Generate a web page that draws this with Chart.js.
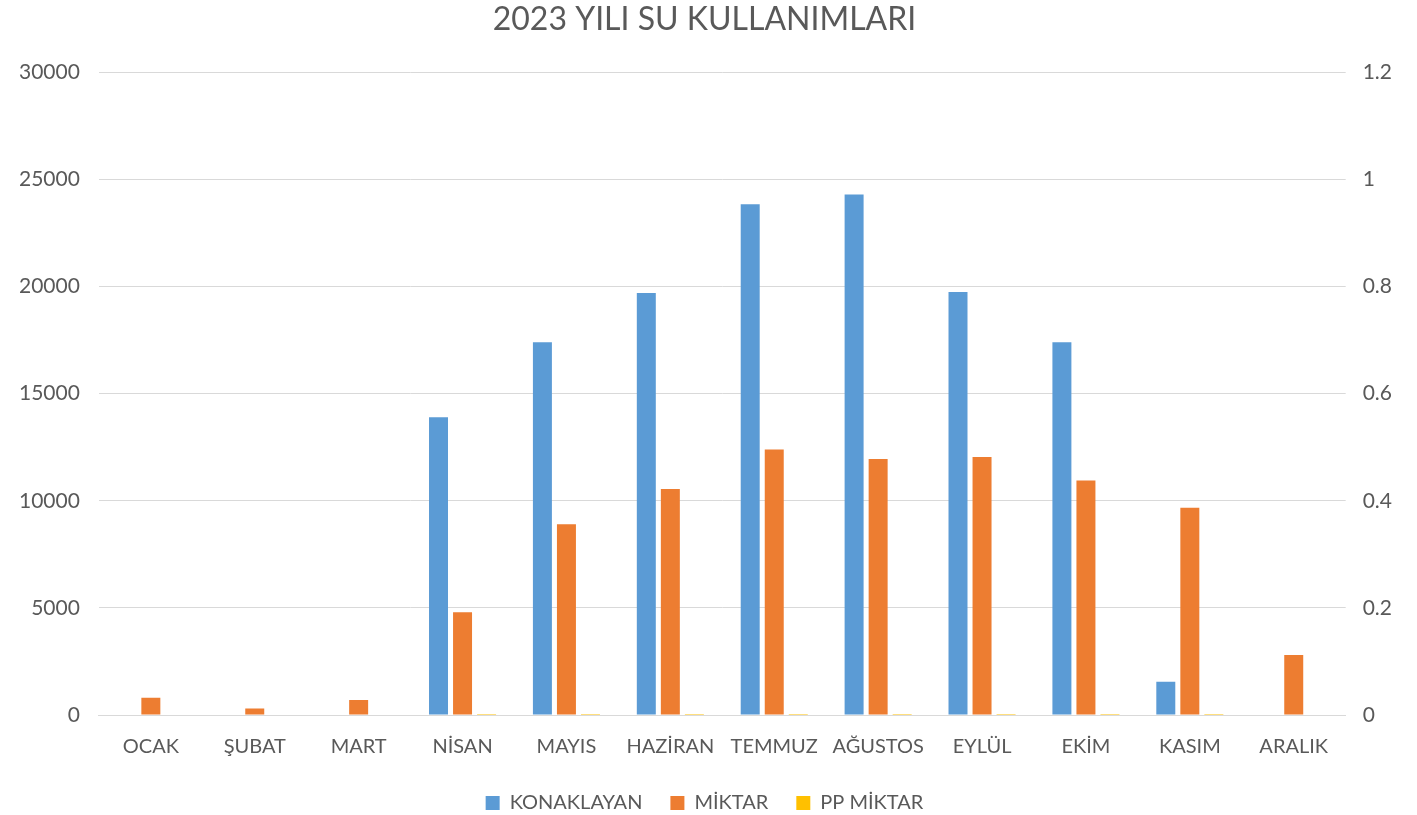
<!DOCTYPE html>
<html>
<head>
<meta charset="utf-8">
<script src="https://cdn.jsdelivr.net/npm/chart.js@4.4.1/dist/chart.umd.min.js"></script>
<style>
html,body{margin:0;padding:0;background:#fff;}
#wrap{width:1417px;height:815px;}
</style>
</head>
<body>
<div id="wrap"><canvas id="c" width="1417" height="815"></canvas></div>
<script>
const months = ["OCAK","ŞUBAT","MART","NİSAN","MAYIS","HAZİRAN","TEMMUZ","AĞUSTOS","EYLÜL","EKİM","KASIM","ARALIK"];
const konaklayan = [null,null,null,13900,17400,19700,23850,24300,19750,17400,1550,null];
const miktar = [800,300,700,4800,8900,10550,12400,11950,12050,10950,9680,2800];
const ppMiktar = [null,null,null,0.001,0.001,0.001,0.001,0.001,0.001,0.001,0.001,null];
const titleText = "2023 YILI SU KULLANIMLARI";

const FONT = "Lato";
const TXT = "#595959";
Chart.defaults.font.family = FONT;
Chart.defaults.color = TXT;

new Chart(document.getElementById('c'), {
  type: 'bar',
  data: {
    labels: months,
    datasets: [
      {label: "KONAKLAYAN", data: konaklayan, backgroundColor: "#5B9BD5", yAxisID: 'y'},
      {label: "MİKTAR", data: miktar, backgroundColor: "#ED7D31", yAxisID: 'y'},
      {label: "PP MİKTAR", data: ppMiktar, backgroundColor: "#FFC000", yAxisID: 'y1'}
    ]
  },
  options: {
    responsive: false,
    animation: false,
    datasets: {bar: {categoryPercentage: 0.694, barPercentage: 0.79}},
    layout: {padding: {left: 0, right: 8, top: 0, bottom: -8}},
    plugins: {
      title: {display: true, text: titleText, color: TXT, font: {family: FONT, size: 32, weight: 'normal'}, padding: {top: 0, bottom: 34}},
      legend: {position: 'bottom', labels: {boxWidth: 14, boxHeight: 14, padding: 28, color: TXT, font: {family: FONT, size: 20}}},
      tooltip: {enabled: false}
    },
    scales: {
      x: {
        grid: {display: false, drawTicks: false},
        border: {color: '#d9d9d9', width: 1},
        ticks: {color: TXT, font: {family: FONT, size: 20}, padding: 20, maxRotation: 0, autoSkip: false},
        afterFit: s => { s.height -= 14; }
      },
      y: {
        position: 'left', min: 0, max: 30000,
        ticks: {stepSize: 5000, color: TXT, font: {family: FONT, size: 21}, padding: 19, callback: v => String(v)},
        grid: {color: '#d9d9d9', drawTicks: false},
        border: {display: false}
      },
      y1: {
        position: 'right', min: 0, max: 1.2,
        ticks: {stepSize: 0.2, color: TXT, font: {family: FONT, size: 21}, padding: 17, callback: v => String(Number(v.toFixed(1)))},
        grid: {display: false, drawTicks: false},
        border: {display: false}
      }
    }
  }
});
</script>
</body>
</html>
